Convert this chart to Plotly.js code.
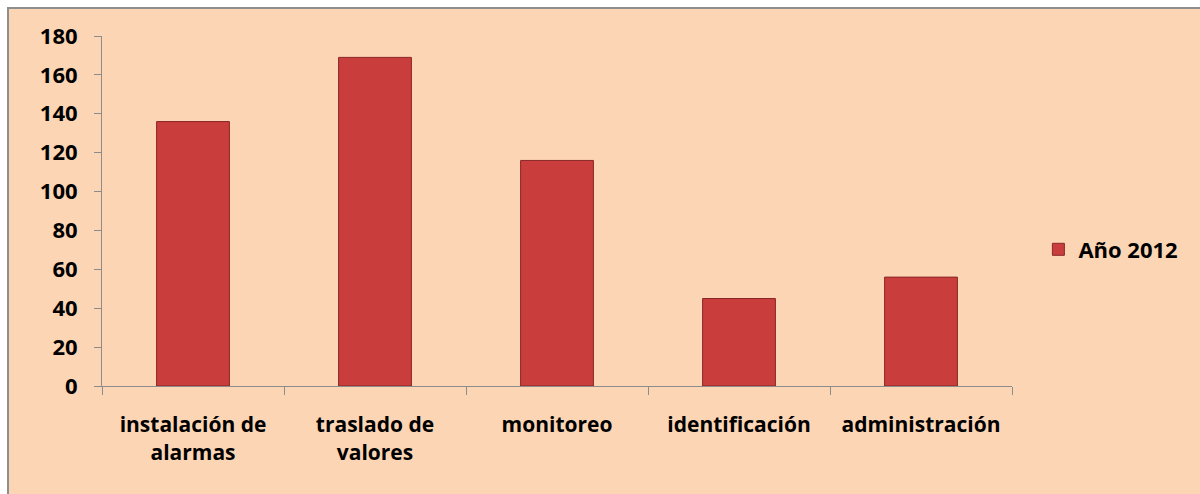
<!DOCTYPE html>
<html>
<head>
<meta charset="utf-8">
<script src="https://cdn.plot.ly/plotly-3.0.1.min.js"></script>
<style>
  html, body { margin: 0; padding: 0; background: #ffffff; width: 1200px; height: 494px; overflow: hidden; }
  #frame { position: absolute; left: 7px; top: 7px; width: 1193px; height: 487px;
           border-left: 2px solid #8e8e8e; border-top: 2px solid #8e8e8e; box-sizing: border-box; background: #FCD5B5; }
  #chart { width: 1191px; height: 485px; }
</style>
</head>
<body>
<div id="frame"><div id="chart"></div></div>
<script>
const categories = ["instalación de<br>alarmas", "traslado de<br>valores", "monitoreo", "identificación", "administración"];
const seriesName = "Año 2012";
const values = [136, 169, 116, 45, 56];
const yTicks = [0, 20, 40, 60, 80, 100, 120, 140, 160, 180];

const fontFam = "'Open Sans', 'DejaVu Sans', sans-serif";

const trace = {
  type: "bar",
  x: categories,
  y: values,
  name: seriesName,
  marker: { color: "#C93D3D", line: { color: "#8A2626", width: 1 } },
  hoverinfo: "x+y"
};

const layout = {
  width: 1191,
  height: 485,
  paper_bgcolor: "#FCD5B5",
  plot_bgcolor: "#FCD5B5",
  margin: { l: 93, r: 188, t: 27, b: 108, pad: 0 },
  bargap: 0.6,
  showlegend: true,
  legend: {
    x: 1.029, y: 0.39, xanchor: "left", yanchor: "middle",
    bgcolor: "rgba(0,0,0,0)",
    font: { family: fontFam, size: 22, color: "#000000", weight: "bold" },
    itemwidth: 30
  },
  xaxis: {
    type: "category",
    range: [-0.5, 4.5],
    showline: true, linecolor: "#8c8c8c", linewidth: 1,
    ticks: "outside", tickson: "boundaries", ticklen: 8, tickcolor: "#8c8c8c",
    ticklabelstandoff: 20,
    showgrid: false, zeroline: false,
    tickfont: { family: fontFam, size: 21, color: "#000000", weight: "bold" },
    fixedrange: true
  },
  yaxis: {
    range: [0, 180],
    tickvals: yTicks,
    ticktext: yTicks.map(String),
    showline: true, linecolor: "#8c8c8c", linewidth: 1,
    ticks: "outside", ticklen: 7, tickcolor: "#8c8c8c",
    ticklabelstandoff: 12,
    showgrid: false, zeroline: false,
    tickfont: { family: fontFam, size: 22, color: "#000000", weight: "bold" },
    fixedrange: true
  }
};

Plotly.newPlot("chart", [trace], layout, { displayModeBar: false, staticPlot: true });
</script>
</body>
</html>
